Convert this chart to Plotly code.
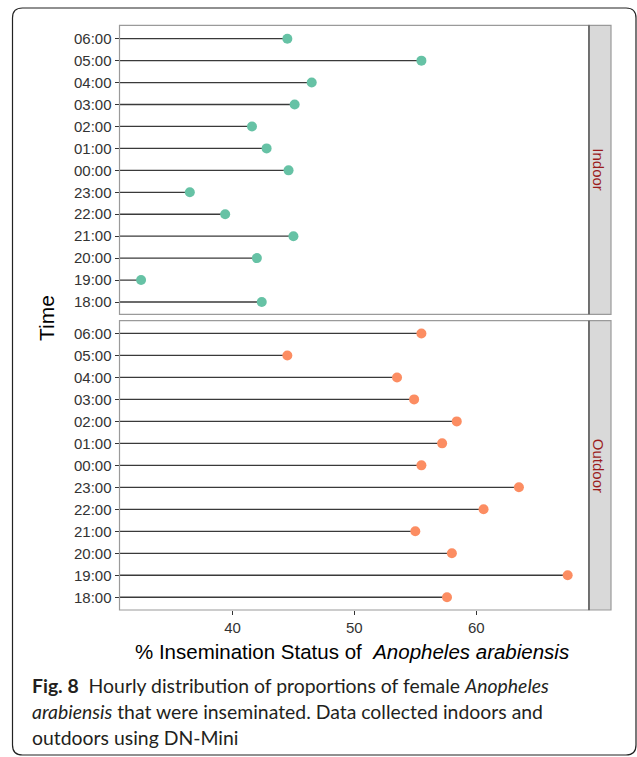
import plotly.graph_objects as go

W, H = 637, 757

times = ["18:00", "19:00", "20:00", "21:00", "22:00", "23:00",
         "00:00", "01:00", "02:00", "03:00", "04:00", "05:00", "06:00"]
indoor = [42.4, 32.5, 42.0, 45.0, 39.4, 36.5, 44.6, 42.8, 41.6, 45.1, 46.5, 55.5, 44.5]
outdoor = [57.6, 67.5, 58.0, 55.0, 60.6, 63.5, 55.5, 57.2, 58.4, 54.9, 53.5, 44.5, 55.5]
x_ticks = [40, 50, 60]
ref_value = 50
seg_start = 0
panels = ["Indoor", "Outdoor"]
colors = ["#66C2A5", "#FC8D62"]

# pixel layout helpers
def px(x):
    return x / W

def py(y):
    return 1 - y / H

PL, PR = 119.5, 589.0
STRIP_R = 611.0
TOP = (25.3, 314.3)
BOT = (320.7, 610.0)

fig = go.Figure()

for i, (vals, col) in enumerate(zip([indoor, outdoor], colors)):
    xs, ys = [], []
    for t, v in zip(times, vals):
        xs += [seg_start, v, None]
        ys += [t, t, None]
    xa = "x" if i == 0 else "x2"
    ya = "y" if i == 0 else "y2"
    fig.add_trace(go.Scatter(x=xs, y=ys, mode="lines",
                             line=dict(color="#3a3a3a", width=1.3),
                             xaxis=xa, yaxis=ya, showlegend=False, hoverinfo="skip"))
    fig.add_trace(go.Scatter(x=[ref_value, ref_value], y=[-1, 13], mode="lines",
                             line=dict(color="#8B0000", width=2.5, dash="8px,7px"),
                             xaxis=xa, yaxis=ya, showlegend=False, hoverinfo="skip"))
    fig.add_trace(go.Scatter(x=vals, y=times, mode="markers",
                             marker=dict(color=col, size=10, line=dict(width=0)),
                             xaxis=xa, yaxis=ya, showlegend=False))

xr = [30.73, 69.25]
axis_font = dict(family="Liberation Sans, Arial", size=15, color="#333333")
common_x = dict(range=xr, domain=[px(PL), px(PR)], showgrid=False, zeroline=False,
                tickvals=x_ticks, ticks="outside", ticklen=4, tickcolor="#333333",
                tickfont=axis_font, showline=False)
fig.update_layout(
    width=W, height=H,
    margin=dict(l=0, r=0, t=0, b=0),
    paper_bgcolor="white", plot_bgcolor="white",
    xaxis=dict(common_x, anchor="y", showticklabels=False, ticks=""),
    xaxis2=dict(common_x, anchor="y2"),
    yaxis=dict(domain=[py(TOP[1]), py(TOP[0])], type="category",
               categoryorder="array", categoryarray=times,
               range=[-0.56, 12.61], showgrid=False, zeroline=False,
               ticks="outside", ticklen=4, tickcolor="#333333", tickfont=axis_font,
               anchor="x"),
    yaxis2=dict(domain=[py(BOT[1]), py(BOT[0])], type="category",
                categoryorder="array", categoryarray=times,
                range=[-0.58, 12.58], showgrid=False, zeroline=False,
                ticks="outside", ticklen=4, tickcolor="#333333", tickfont=axis_font,
                anchor="x2"),
    font=dict(family="Liberation Sans, Arial", color="#000000"),
)

shapes = []
# outer rounded box
x0, x1, y0, y1, r = 12.5, 636.0, 8.0, 755.0, 10
path = (f"M {px(x0+r)},{py(y0)} L {px(x1-r)},{py(y0)} "
        f"Q {px(x1)},{py(y0)} {px(x1)},{py(y0+r)} L {px(x1)},{py(y1-r)} "
        f"Q {px(x1)},{py(y1)} {px(x1-r)},{py(y1)} L {px(x0+r)},{py(y1)} "
        f"Q {px(x0)},{py(y1)} {px(x0)},{py(y1-r)} L {px(x0)},{py(y0+r)} "
        f"Q {px(x0)},{py(y0)} {px(x0+r)},{py(y0)} Z")
shapes.append(dict(type="path", xref="paper", yref="paper", path=path,
                   line=dict(color="#222222", width=1.2), fillcolor="rgba(0,0,0,0)"))
for (ytop, ybot), name in zip([TOP, BOT], panels):
    shapes.append(dict(type="rect", xref="paper", yref="paper",
                       x0=px(PL), x1=px(PR), y0=py(ybot), y1=py(ytop),
                       line=dict(color="#9a9a9a", width=1.2)))
    shapes.append(dict(type="rect", xref="paper", yref="paper",
                       x0=px(PR), x1=px(STRIP_R), y0=py(ybot), y1=py(ytop),
                       fillcolor="#D9D9D9", line=dict(color="#9a9a9a", width=1.2)))
    shapes.append(dict(type="line", xref="paper", yref="paper",
                       x0=px(PR), x1=px(PR), y0=py(ybot), y1=py(ytop),
                       line=dict(color="#333333", width=1)))
fig.update_layout(shapes=shapes)

ann = []
for (ytop, ybot), name in zip([TOP, BOT], panels):
    ann.append(dict(text=name, x=px(598.5), y=py((ytop + ybot) / 2),
                    xref="paper", yref="paper", showarrow=False, textangle=90,
                    font=dict(family="Liberation Sans, Arial", size=15, color="#9B1C1C"),
                    xanchor="center", yanchor="middle"))
ann.append(dict(text="Time", x=px(46.5), y=py(318.5), xref="paper", yref="paper",
                showarrow=False, textangle=-90,
                font=dict(family="Liberation Sans, Arial", size=21, color="#000000"),
                xanchor="center", yanchor="middle"))
ann.append(dict(text="% Insemination Status of  <i>Anopheles arabiensis</i>",
                x=px(352), y=py(651), xref="paper", yref="paper", showarrow=False,
                font=dict(family="Liberation Sans, Arial", size=20.5, color="#000000"),
                xanchor="center", yanchor="middle"))
caption = [
    "<b>Fig. 8</b>  Hourly distribution of proportions of female <i>Anopheles</i>",
    "<i>arabiensis</i> that were inseminated. Data collected indoors and",
    "outdoors using DN-Mini",
]
for line, yc in zip(caption, [685, 711.5, 737]):
    ann.append(dict(text=line, x=px(30), y=py(yc), xref="paper", yref="paper",
                    showarrow=False, xanchor="left", yanchor="middle",
                    font=dict(family="Lato", size=19.4, color="#231F20")))
fig.update_layout(annotations=ann)

fig.write_html("out.html", config={"displayModeBar": False},
               post_script="document.body.style.margin='0';document.body.style.overflow='hidden';")
